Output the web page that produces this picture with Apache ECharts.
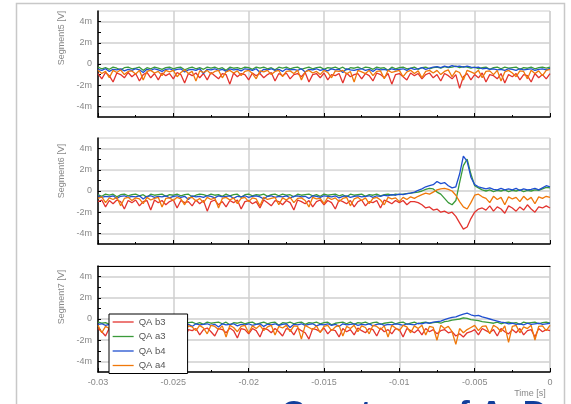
<!DOCTYPE html>
<html><head><meta charset="utf-8">
<script src="https://cdn.jsdelivr.net/npm/echarts@6/dist/echarts.min.js"></script>
<style>html,body{margin:0;padding:0;background:#fff}#c{width:571px;height:404px}</style>
</head><body><div id="c"></div>
<script>
// ---- data (values in mV) ----
const xMin = -0.03, xMax = 0, xStep = 0.00025, xInterval = 0.005;
const seriesNames = ['QA b3', 'QA a3', 'QA b4', 'QA a4'];
const seriesColors = ['#e3342f', '#3a9a3a', '#1f4fd0', '#f0780a'];
const panelNames = ['Segment5 [V]', 'Segment6 [V]', 'Segment7 [V]'];
const yLabelValues = [-4, -2, 0, 2, 4];
const yTickValues = [-4, -3, -2, -1, 0, 1, 2, 3, 4];

const s5_b3 = [-0.9,-1.4,-0.8,-1.1,-1.7,-0.85,-1.0,-1.3,-0.8,-1.2,
-0.9,-1.6,-1.0,-0.8,-1.3,-0.9,-1.5,-0.85,-1.1,-0.9,
-1.4,-0.8,-1.0,-1.8,-0.9,-1.1,-0.85,-1.3,-0.9,-1.5,
-0.8,-1.1,-1.4,-0.9,-1.0,-1.9,-0.85,-1.2,-0.9,-1.0,
-1.5,-0.85,-1.1,-0.9,-1.3,-1.0,-0.8,-1.6,-0.9,-1.1,
-0.85,-1.4,-1.0,-0.9,-1.2,-0.8,-1.7,-1.0,-0.9,-1.3,
-0.85,-1.5,-1.0,-1.1,-0.9,-1.8,-0.85,-1.2,-1.0,-0.9,
-1.4,-0.9,-1.1,-1.6,-0.85,-1.0,-1.3,-0.9,-1.9,-1.0,
-0.9,-1.2,-1.5,-0.85,-1.1,-0.9,-1.4,-1.0,-0.85,-1.3,
-1.0,-1.6,-0.9,-1.1,-1.4,-1.0,-2.3,-1.2,-0.9,-1.5,
-1.0,-1.3,-0.85,-1.7,-1.0,-1.1,-1.4,-0.9,-1.8,-1.0,
-1.2,-0.9,-1.5,-1.0,-1.1,-1.7,-0.9,-1.3,-1.0,-1.4,-0.9];
const s5_a3 = [-0.3,-0.45,-0.35,-0.5,-0.3,-0.4,-0.55,-0.35,-0.3,-0.45,
-0.4,-0.3,-0.6,-0.35,-0.45,-0.3,-0.4,-0.5,-0.35,-0.3,
-0.45,-0.35,-0.3,-0.55,-0.4,-0.3,-0.45,-0.35,-0.5,-0.3,
-0.4,-0.3,-0.45,-0.35,-0.6,-0.3,-0.4,-0.35,-0.45,-0.3,
-0.35,-0.5,-0.3,-0.4,-0.3,-0.45,-0.35,-0.55,-0.3,-0.4,
-0.3,-0.45,-0.35,-0.3,-0.5,-0.4,-0.3,-0.45,-0.35,-0.3,
-0.5,-0.35,-0.4,-0.3,-0.45,-0.3,-0.55,-0.35,-0.4,-0.3,
-0.45,-0.3,-0.35,-0.5,-0.3,-0.4,-0.35,-0.6,-0.3,-0.45,
-0.35,-0.3,-0.45,-0.4,-0.3,-0.5,-0.35,-0.3,-0.45,-0.35,
-0.3,-0.4,-0.25,-0.35,-0.3,-0.2,-0.35,-0.25,-0.3,-0.4,
-0.3,-0.45,-0.35,-0.3,-0.5,-0.35,-0.3,-0.45,-0.3,-0.4,
-0.35,-0.3,-0.5,-0.35,-0.4,-0.3,-0.45,-0.35,-0.3,-0.4,-0.3];
const s5_b4 = [-0.5,-0.6,-0.45,-0.7,-0.5,-0.55,-0.45,-0.65,-0.5,-0.6,
-0.45,-0.55,-0.8,-0.5,-0.6,-0.45,-0.55,-0.7,-0.5,-0.45,
-0.6,-0.5,-0.45,-0.75,-0.55,-0.5,-0.6,-0.45,-0.9,-0.5,
-0.55,-0.45,-0.6,-0.5,-0.7,-0.45,-0.55,-0.5,-0.65,-0.45,
-0.5,-0.6,-0.45,-0.8,-0.5,-0.55,-0.45,-0.6,-0.5,-0.7,
-0.45,-0.55,-0.5,-0.6,-0.45,-0.75,-0.5,-0.55,-0.45,-0.6,
-0.5,-0.65,-0.45,-0.55,-0.5,-0.8,-0.45,-0.55,-0.6,-0.5,
-0.45,-0.6,-0.5,-0.7,-0.45,-0.55,-0.5,-0.6,-0.45,-0.55,
-0.5,-0.45,-0.6,-0.4,-0.5,-0.45,-0.35,-0.5,-0.4,-0.3,
-0.25,-0.35,-0.2,-0.3,-0.15,-0.25,-0.2,-0.3,-0.2,-0.3,
-0.35,-0.3,-0.45,-0.4,-0.5,-0.45,-0.55,-0.5,-0.6,-0.45,
-0.5,-0.6,-0.45,-0.55,-0.5,-0.45,-0.6,-0.5,-0.45,-0.55,-0.4];
const s5_a4 = [-0.6,-0.9,-0.7,-1.3,-0.6,-0.8,-0.55,-1.0,-0.7,-0.65,
-0.95,-0.6,-1.5,-0.7,-0.6,-0.85,-0.7,-1.1,-0.6,-0.75,
-0.6,-1.2,-0.8,-0.55,-0.9,-0.7,-1.6,-0.65,-0.8,-0.6,
-0.95,-0.7,-0.6,-1.3,-0.75,-0.6,-0.85,-0.65,-1.1,-0.7,
-0.6,-0.9,-1.4,-0.65,-0.75,-0.6,-1.0,-0.7,-0.6,-1.2,
-0.7,-0.65,-0.9,-0.6,-1.5,-0.75,-0.6,-0.85,-0.7,-1.0,
-0.6,-0.8,-1.3,-0.65,-0.7,-0.6,-0.95,-0.7,-1.7,-0.6,
-0.75,-0.9,-0.6,-1.1,-0.7,-0.65,-1.4,-0.6,-0.8,-0.7,
-0.6,-1.2,-0.75,-0.6,-0.9,-0.65,-1.3,-0.7,-0.6,-0.85,
-0.6,-1.0,-0.7,-0.55,-1.2,-0.65,-0.8,-1.5,-0.6,-0.75,
-0.9,-0.6,-1.3,-0.7,-0.65,-1.0,-0.6,-1.6,-0.75,-0.6,
-0.85,-1.2,-0.65,-0.7,-1.4,-0.6,-0.9,-0.65,-1.1,-0.6,-0.5];

const s6_b3 = [-1.0,-0.85,-1.5,-0.9,-1.2,-0.85,-1.0,-1.7,-0.9,-1.1,
-0.85,-1.4,-1.0,-0.9,-1.8,-0.85,-1.1,-0.9,-1.3,-1.0,
-0.85,-1.6,-0.9,-1.1,-1.0,-1.4,-0.85,-1.2,-0.9,-1.9,
-1.0,-0.85,-1.3,-1.0,-1.5,-0.9,-1.1,-0.85,-1.7,-1.0,
-0.9,-1.2,-1.0,-1.6,-0.85,-1.1,-1.4,-0.9,-1.0,-1.3,
-0.9,-1.1,-1.8,-0.85,-1.0,-1.2,-0.9,-1.5,-1.0,-0.85,
-1.3,-0.9,-1.1,-1.7,-0.85,-1.0,-1.2,-0.9,-1.5,-1.0,
-0.85,-1.4,-1.0,-1.1,-0.9,-1.6,-0.85,-1.0,-1.2,-0.9,
-1.1,-0.9,-1.3,-1.0,-1.0,-1.1,-1.3,-1.6,-1.5,-1.8,
-1.7,-2.0,-1.9,-2.1,-2.0,-2.4,-3.0,-3.6,-3.4,-2.6,
-2.0,-1.7,-1.6,-1.8,-1.4,-1.9,-1.5,-1.7,-2.1,-1.4,
-1.6,-1.9,-1.5,-1.8,-1.3,-1.7,-2.0,-1.5,-1.6,-1.4,-1.6];
const s6_a3 = [-0.35,-0.5,-0.3,-0.4,-0.3,-0.55,-0.35,-0.3,-0.45,-0.35,
-0.3,-0.45,-0.35,-0.6,-0.3,-0.4,-0.35,-0.3,-0.5,-0.35,
-0.4,-0.3,-0.45,-0.35,-0.3,-0.55,-0.4,-0.3,-0.35,-0.45,
-0.3,-0.4,-0.35,-0.5,-0.3,-0.45,-0.35,-0.3,-0.6,-0.35,
-0.3,-0.45,-0.35,-0.4,-0.3,-0.5,-0.35,-0.3,-0.45,-0.3,
-0.4,-0.35,-0.55,-0.3,-0.4,-0.35,-0.3,-0.45,-0.35,-0.5,
-0.3,-0.4,-0.35,-0.3,-0.45,-0.35,-0.55,-0.3,-0.4,-0.35,
-0.3,-0.5,-0.35,-0.4,-0.3,-0.45,-0.35,-0.3,-0.4,-0.3,
-0.35,-0.3,-0.25,-0.2,-0.15,-0.1,0.0,0.15,0.25,0.2,
-0.1,-0.3,-0.7,-1.1,-1.3,-0.9,0.8,2.4,3.0,1.6,
0.5,0.3,0.1,0.0,0.1,-0.05,0.05,0.0,0.1,-0.05,
0.05,0.0,0.1,-0.05,0.05,0.0,0.1,0.05,0.2,0.35,0.3];
const s6_b4 = [-0.45,-0.6,-0.5,-0.55,-0.45,-0.7,-0.5,-0.45,-0.6,-0.5,
-0.55,-0.45,-0.75,-0.5,-0.45,-0.6,-0.5,-0.55,-0.45,-0.65,
-0.5,-0.45,-0.6,-0.5,-0.8,-0.45,-0.55,-0.5,-0.6,-0.45,
-0.5,-0.65,-0.45,-0.55,-0.5,-0.45,-0.7,-0.5,-0.55,-0.45,
-0.6,-0.5,-0.45,-0.55,-0.75,-0.5,-0.45,-0.6,-0.5,-0.55,
-0.45,-0.65,-0.5,-0.45,-0.55,-0.5,-0.7,-0.45,-0.5,-0.6,
-0.45,-0.5,-0.55,-0.45,-0.65,-0.5,-0.45,-0.6,-0.5,-0.45,
-0.55,-0.5,-0.45,-0.6,-0.45,-0.5,-0.4,-0.45,-0.35,-0.4,
-0.3,-0.35,-0.25,-0.2,-0.1,0.05,0.2,0.4,0.5,0.6,
0.9,0.7,0.8,0.5,0.3,0.4,1.6,3.3,2.8,1.3,
0.6,0.4,0.3,0.2,0.3,0.15,0.1,0.25,0.1,0.2,
0.1,0.25,0.05,0.2,0.1,0.15,0.25,0.1,0.3,0.5,0.4];
const s6_a4 = [-0.7,-0.55,-1.1,-0.65,-0.8,-0.6,-1.4,-0.7,-0.6,-0.9,
-0.65,-0.75,-1.2,-0.6,-0.85,-0.7,-0.6,-1.5,-0.7,-0.65,
-0.9,-0.6,-0.75,-1.3,-0.65,-0.6,-0.95,-0.7,-1.1,-0.6,
-0.8,-0.65,-1.6,-0.7,-0.6,-0.85,-0.65,-1.2,-0.7,-0.6,
-1.0,-0.65,-0.75,-1.4,-0.6,-0.8,-0.7,-0.6,-1.3,-0.65,
-0.85,-0.6,-1.1,-0.7,-0.65,-0.9,-1.5,-0.6,-0.75,-0.7,
-1.2,-0.6,-0.8,-0.65,-1.0,-0.7,-0.6,-1.4,-0.75,-0.6,
-0.9,-0.65,-1.2,-0.7,-0.6,-0.85,-1.3,-0.6,-0.75,-0.65,
-1.0,-0.6,-0.8,-0.55,-0.7,-0.5,-0.35,-0.2,-0.3,-0.1,
0.1,0.2,0.25,0.15,0.0,-0.4,-1.0,-1.5,-1.7,-1.1,
-0.4,-0.3,-0.55,-0.7,-1.1,-0.5,-0.8,-0.6,-1.3,-0.55,
-0.75,-0.6,-1.0,-0.5,-0.85,-0.6,-1.2,-0.55,-0.7,-0.5,-0.6];

const s7_b3 = [-0.9,-1.2,-1.6,-0.85,-1.0,-1.3,-0.9,-1.8,-1.0,-1.1,
-0.9,-1.4,-1.0,-1.7,-0.85,-1.2,-0.9,-1.1,-1.5,-0.9,
-1.0,-1.3,-0.85,-1.9,-1.0,-1.1,-0.9,-1.5,-1.0,-0.85,
-1.2,-1.6,-0.9,-1.0,-1.3,-0.85,-1.1,-1.8,-0.9,-1.0,
-1.4,-0.9,-1.1,-1.7,-0.85,-1.0,-1.3,-0.9,-1.2,-1.6,
-0.9,-1.0,-1.5,-0.85,-1.1,-1.3,-1.9,-0.9,-1.0,-1.2,
-0.85,-1.4,-1.0,-1.1,-1.7,-0.9,-1.2,-1.0,-1.5,-0.85,
-1.1,-1.3,-0.9,-1.0,-1.6,-0.85,-1.2,-1.0,-1.4,-0.9,
-1.0,-1.7,-0.9,-1.1,-1.3,-1.0,-1.5,-0.9,-1.2,-1.0,
-1.4,-1.1,-1.0,-1.3,-1.2,-1.6,-1.4,-1.7,-1.3,-1.2,
-1.0,-1.5,-0.9,-1.1,-1.3,-1.0,-1.6,-0.9,-1.2,-1.4,
-1.0,-1.3,-0.9,-1.5,-1.1,-1.0,-1.7,-0.9,-1.2,-1.0,-1.1];
const s7_a3 = [-0.3,-0.4,-0.35,-0.5,-0.3,-0.45,-0.35,-0.3,-0.55,-0.35,
-0.4,-0.3,-0.45,-0.35,-0.3,-0.5,-0.4,-0.35,-0.3,-0.45,
-0.35,-0.6,-0.3,-0.4,-0.35,-0.3,-0.45,-0.35,-0.5,-0.3,
-0.4,-0.35,-0.3,-0.45,-0.3,-0.55,-0.35,-0.4,-0.3,-0.45,
-0.35,-0.3,-0.5,-0.4,-0.3,-0.45,-0.35,-0.3,-0.6,-0.35,
-0.4,-0.3,-0.45,-0.35,-0.3,-0.5,-0.35,-0.4,-0.3,-0.45,
-0.35,-0.3,-0.55,-0.4,-0.35,-0.3,-0.45,-0.3,-0.5,-0.35,
-0.4,-0.3,-0.45,-0.35,-0.3,-0.5,-0.4,-0.35,-0.3,-0.45,
-0.35,-0.3,-0.5,-0.4,-0.3,-0.45,-0.35,-0.3,-0.4,-0.35,
-0.3,-0.4,-0.25,-0.2,-0.1,-0.05,0.0,0.1,0.05,-0.05,
-0.1,-0.15,-0.25,-0.3,-0.35,-0.4,-0.3,-0.45,-0.35,-0.3,
-0.4,-0.35,-0.5,-0.3,-0.4,-0.35,-0.3,-0.45,-0.35,-0.3,-0.4];
const s7_b4 = [-0.5,-0.45,-0.6,-0.5,-0.55,-0.45,-0.7,-0.5,-0.45,-0.6,
-0.5,-0.55,-0.45,-0.65,-0.5,-0.45,-0.6,-0.5,-0.8,-0.45,
-0.55,-0.5,-0.45,-0.6,-0.5,-0.7,-0.45,-0.55,-0.5,-0.45,
-0.6,-0.5,-0.75,-0.45,-0.55,-0.5,-0.45,-0.65,-0.5,-0.55,
-0.45,-0.6,-0.5,-0.45,-0.7,-0.5,-0.55,-0.45,-0.6,-0.5,
-0.45,-0.8,-0.5,-0.55,-0.45,-0.6,-0.5,-0.45,-0.65,-0.5,
-0.55,-0.45,-0.6,-0.5,-0.7,-0.45,-0.55,-0.5,-0.45,-0.6,
-0.5,-0.55,-0.45,-0.65,-0.5,-0.45,-0.6,-0.5,-0.55,-0.45,
-0.5,-0.6,-0.45,-0.5,-0.55,-0.4,-0.45,-0.35,-0.4,-0.3,
-0.25,-0.2,-0.05,0.05,0.15,0.2,0.35,0.45,0.55,0.4,
0.3,0.35,0.2,0.1,0.0,-0.1,-0.2,-0.3,-0.35,-0.45,
-0.4,-0.5,-0.45,-0.55,-0.4,-0.5,-0.45,-0.4,-0.5,-0.45,-0.4];
const s7_a4 = [-0.6,-1.3,-0.7,-0.9,-0.6,-1.8,-0.7,-0.65,-1.1,-0.6,
-0.8,-1.5,-0.65,-0.7,-1.0,-0.6,-1.2,-0.75,-0.6,-1.6,
-0.7,-0.9,-0.6,-1.3,-0.65,-0.75,-1.1,-0.6,-0.85,-1.4,
-0.6,-0.7,-1.0,-0.65,-1.7,-0.6,-0.8,-1.2,-0.7,-0.6,
-1.3,-0.65,-0.9,-0.6,-1.1,-0.75,-0.6,-1.5,-0.7,-0.85,
-0.6,-1.2,-0.65,-0.7,-1.9,-0.6,-0.8,-1.0,-0.65,-1.3,
-0.7,-0.6,-1.1,-0.75,-0.6,-1.6,-0.7,-0.9,-0.6,-1.2,
-0.65,-0.8,-1.4,-0.6,-0.7,-1.0,-0.65,-1.7,-0.6,-0.85,
-1.1,-0.6,-0.75,-1.3,-0.65,-0.9,-0.6,-1.5,-0.7,-0.8,
-2.0,-0.6,-0.9,-0.7,-1.2,-2.4,-0.9,-1.3,-1.0,-0.8,
-0.6,-1.1,-0.7,-0.65,-1.4,-0.6,-0.8,-1.2,-0.65,-2.2,
-0.7,-0.6,-1.3,-0.75,-0.9,-0.6,-2.0,-0.7,-0.65,-1.1,-0.6];

const panels = [
  [s5_b3, s5_a3, s5_b4, s5_a4],
  [s6_b3, s6_a3, s6_b4, s6_a4],
  [s7_b3, s7_a3, s7_b4, s7_a4]
];

// ---- chart ----
const FONT = 'Liberation Sans, Arial, sans-serif';
const gridTops = [11, 138, 266];
const gridH = 106;
const time = s5_b3.map((_, i) => +(xMin + i * xStep).toFixed(6));

const grid = gridTops.map(t => ({
  left: 98, right: 21, top: t, height: gridH,
  show: true, borderColor: '#cccccc', borderWidth: 1, backgroundColor: 'transparent'
}));

const xAxis = gridTops.map((t, g) => ({
  type: 'value', gridIndex: g, position: 'bottom',
  min: xMin, max: xMax, interval: xInterval,
  axisLine: { show: true, onZero: false, lineStyle: { color: '#000', width: 1.5 } },
  axisTick: { show: true, inside: true, length: 4, lineStyle: { color: '#000' } },
  minorTick: { show: true, splitNumber: 2, length: 2, lineStyle: { color: '#000' } },
  axisLabel: { show: g === 2, fontSize: 9, color: '#888', margin: 6, fontFamily: FONT },
  splitLine: { show: true, lineStyle: { color: '#cfcfcf', width: 1.5 } }
}));
xAxis.push({
  type: 'value', gridIndex: 2, position: 'top', min: xMin, max: xMax,
  axisLine: { show: true, onZero: false, lineStyle: { color: '#000', width: 1.2 } },
  axisTick: { show: false }, axisLabel: { show: false }, splitLine: { show: false }
});

const yAxis = [];
// main left axis per panel: line, ticks at every 1m, labels at every 2m
gridTops.forEach((t, g) => {
  yAxis.push({
    type: 'value', gridIndex: g, position: 'left', min: -5, max: 5, interval: 1,
    axisLine: { show: true, onZero: false, lineStyle: { color: '#000', width: 1.5 } },
    axisTick: { show: true, inside: true, length: 3, customValues: yTickValues, lineStyle: { color: '#000' } },
    axisLabel: { show: true, customValues: yLabelValues, fontSize: 9, color: '#888', margin: 6, fontFamily: FONT,
      formatter: v => (v === 0 ? '0' : v + 'm') },
    splitLine: { show: false }
  });
});
// helper axis per panel: only horizontal grid lines at every 2m
gridTops.forEach((t, g) => {
  yAxis.push({
    type: 'value', gridIndex: g, position: 'right', min: -5, max: 5, interval: 1,
    axisLine: { show: false }, axisLabel: { show: false },
    axisTick: { show: false, customValues: yLabelValues },
    splitLine: { show: true, lineStyle: { color: '#cfcfcf', width: 1.5 } }
  });
});

const series = [];
panels.forEach((arrs, g) => {
  arrs.forEach((vals, k) => {
    series.push({
      name: seriesNames[k], type: 'line', xAxisIndex: g, yAxisIndex: g,
      data: vals.map((v, i) => [time[i], v]),
      symbol: 'none', showSymbol: false, animation: false,
      lineStyle: { color: seriesColors[k], width: 1.3 },
      itemStyle: { color: seriesColors[k] }
    });
  });
});

const graphic = [
  { type: 'rect', silent: true, z: -10,
    shape: { x: 16.5, y: 3.5, width: 548, height: 430 },
    style: { fill: 'none', stroke: '#c8c8c8', lineWidth: 1.5 } },
  { type: 'text', x: 530, y: 394, silent: true,
    style: { text: 'Time [s]', fontSize: 9, fill: '#888', align: 'center', verticalAlign: 'middle', fontFamily: FONT } },
  { type: 'text', x: 281, y: 398, silent: true, z: 100,
    style: { text: 'Courtesy of A. Dy', fontSize: 34, fontWeight: 'bold', fill: '#123f9c', align: 'left', verticalAlign: 'top', fontFamily: FONT } }
];
const nameCenters = [38, 171, 297];
panelNames.forEach((n, g) => {
  graphic.push({ type: 'text', x: 62, y: nameCenters[g], rotation: Math.PI / 2, silent: true,
    style: { text: n, fontSize: 9, fill: '#888', align: 'center', verticalAlign: 'middle', fontFamily: FONT } });
});

const chart = echarts.init(document.getElementById('c'), null, { renderer: 'canvas' });
chart.setOption({
  animation: false,
  backgroundColor: '#fff',
  textStyle: { fontFamily: FONT },
  grid, xAxis, yAxis, series, graphic,
  legend: {
    data: seriesNames, left: 109, top: 314, orient: 'vertical',
    itemWidth: 21, itemHeight: 8, itemGap: 4.5, padding: [3, 22, 3, 3],
    borderColor: '#000', borderWidth: 1, backgroundColor: '#fff',
    itemStyle: { opacity: 0 }, lineStyle: { width: 1.3 },
    textStyle: { fontSize: 9.5, color: '#555', fontFamily: FONT }, z: 20
  }
});
</script></body></html>
